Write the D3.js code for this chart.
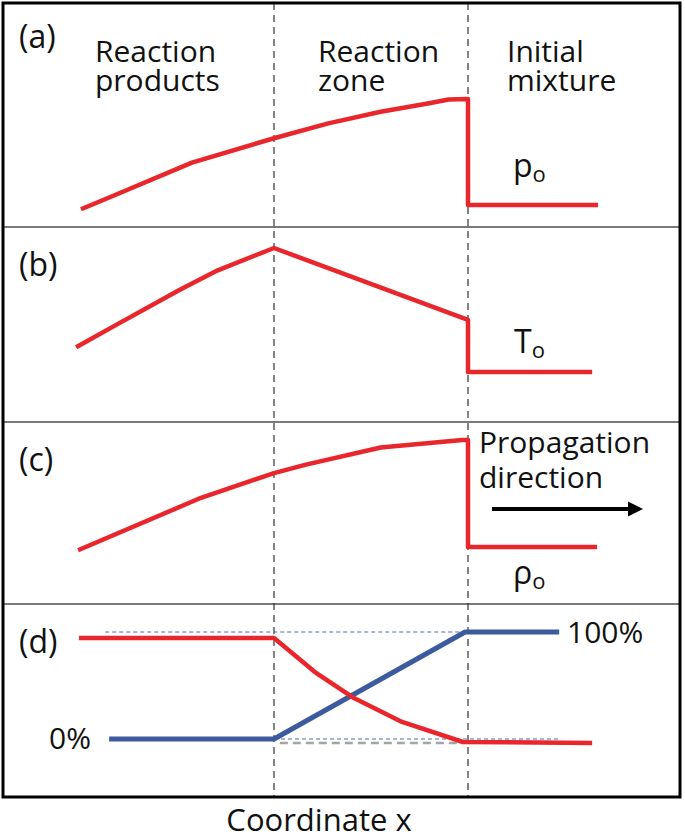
<!DOCTYPE html>
<html>
<head>
<meta charset="utf-8">
<script src="https://cdn.jsdelivr.net/npm/d3@7"></script>
<style>
  html, body { margin: 0; padding: 0; background: #fff; }
  svg { display: block; }
  text { font-family: "Open Sans", "DejaVu Sans", sans-serif; fill: #111; }
</style>
</head>
<body>
<script>
// ---------------- DATA ----------------
const panelLetters = ["(a)", "(b)", "(c)", "(d)"];
const regionLabels = [["Reaction", "products"], ["Reaction", "zone"], ["Initial", "mixture"]];
const frontPositions = [0, 1]; // reaction zone boundaries (dashed lines)

// (a) pressure
const pressureX = [-0.995, -0.825, -0.423, 0, 0.28, 0.55, 0.80, 0.90, 1.0, 1.0, 1.67];
const pressureY = [-0.04, 0.09, 0.40, 0.63, 0.77, 0.88, 0.96, 0.995, 1.0, 0, 0];

// (b) temperature
const temperatureX = [-1.02, -0.825, -0.49, -0.29, 0, 1.0, 1.0, 1.64];
const temperatureY = [0.20, 0.37, 0.66, 0.82, 1.0, 0.42, 0, 0];

// (c) density
const densityX = [-1.01, -0.376, 0, 0.165, 0.55, 0.97, 1.0, 1.0, 1.665];
const densityY = [-0.03, 0.46, 0.69, 0.77, 0.93, 1.0, 1.0, 0, 0];

// (d) composition
const reactantX = [-1.005, 0, 0.211, 0.412, 0.66, 0.974, 1.64];
const reactantY = [0.944, 0.944, 0.626, 0.383, 0.159, -0.028, -0.037];
const productX = [-0.85, 0, 0.985, 1.47];
const productY = [0, 0, 1, 1];
const guideTopX = [-0.87, 0.985];
const guideBottomX = [0, 1.47];
const grayGuideX = [0.03, 0.975];
const grayGuideY = -0.037;
const percentLabels = ["0%", "100%"];

const initialLabels = [["p", "o"], ["T", "o"], ["ρ", "o"]];
const propagationLabel = ["Propagation", "direction"];
const axisTitle = "Coordinate x";

// ---------------- LAYOUT ----------------
const W = 685, H = 840;
const box = { left: 3, top: 3, right: 680, bottom: 797 };
const separators = [227, 422, 604];
const RED = "#e8262b", BLUE = "#3c5a9e";

const svg = d3.select("body").append("svg").attr("width", W).attr("height", H);
svg.append("rect").attr("width", W).attr("height", H).attr("fill", "#fff");

const x = d3.scaleLinear().domain([0, 1]).range([274, 468]);
const yA = d3.scaleLinear().domain([0, 1]).range([205, 99]);
const yB = d3.scaleLinear().domain([0, 1]).range([372, 248]);
const yC = d3.scaleLinear().domain([0, 1]).range([547, 440]);
const yD = d3.scaleLinear().domain([0, 1]).range([739, 632]);

const zip = (xs, ys) => xs.map((v, i) => [v, Array.isArray(ys) ? ys[i] : ys]);

// separators
svg.selectAll("line.sep").data(separators).join("line")
  .attr("class", "sep")
  .attr("x1", box.left).attr("x2", box.right)
  .attr("y1", d => d).attr("y2", d => d)
  .attr("stroke", "#7a7a7a").attr("stroke-width", 2);

// dashed vertical lines
svg.selectAll("line.front").data(frontPositions).join("line")
  .attr("class", "front")
  .attr("x1", d => x(d)).attr("x2", d => x(d))
  .attr("y1", box.top).attr("y2", box.bottom)
  .attr("stroke", "#333").attr("stroke-width", 1.2)
  .attr("stroke-dasharray", "7,5");

// guides in (d)
const g = svg.append("g");
const guideLine = (xs, ys, yScale) => d3.line().x(d => x(d[0])).y(d => yScale(d[1]))(zip(xs, ys));
g.append("path").attr("d", guideLine(guideTopX, 1, yD))
  .attr("fill", "none").attr("stroke", "#5569ad").attr("stroke-width", 1).attr("stroke-dasharray", "4,3");
g.append("path").attr("d", guideLine(guideBottomX, 0, yD))
  .attr("fill", "none").attr("stroke", "#5569ad").attr("stroke-width", 1).attr("stroke-dasharray", "4,3");
g.append("path").attr("d", guideLine(grayGuideX, grayGuideY, yD))
  .attr("fill", "none").attr("stroke", "#a5a5a5").attr("stroke-width", 2.5).attr("stroke-dasharray", "8,5");

// curves
const series = [
  { xs: pressureX, ys: pressureY, y: yA, color: RED, w: 4.5 },
  { xs: temperatureX, ys: temperatureY, y: yB, color: RED, w: 4.5 },
  { xs: densityX, ys: densityY, y: yC, color: RED, w: 4.5 },
  { xs: productX, ys: productY, y: yD, color: BLUE, w: 5 },
  { xs: reactantX, ys: reactantY, y: yD, color: RED, w: 4.5 }
];
svg.selectAll("path.curve").data(series).join("path")
  .attr("class", "curve")
  .attr("d", s => d3.line().x(d => x(d[0])).y(d => s.y(d[1]))(zip(s.xs, s.ys)))
  .attr("fill", "none").attr("stroke", s => s.color).attr("stroke-width", s => s.w)
  .attr("stroke-linejoin", "round").attr("stroke-linecap", "butt");

// outer frame
svg.append("rect")
  .attr("x", box.left).attr("y", box.top)
  .attr("width", box.right - box.left).attr("height", box.bottom - box.top)
  .attr("fill", "none").attr("stroke", "#000").attr("stroke-width", 3);

// panel letters
const letterBaselines = [48, 276, 471, 653];
svg.selectAll("text.letter").data(panelLetters).join("text")
  .attr("class", "letter")
  .attr("x", 19).attr("y", (d, i) => letterBaselines[i])
  .attr("font-size", 32).text(d => d);

// region labels (two lines in one text element)
const regionX = [95, 318, 507];
regionLabels.forEach((lines, i) => {
  const t = svg.append("text").attr("x", regionX[i]).attr("y", 62).attr("font-size", 30);
  lines.forEach((s, j) => {
    t.append("tspan").attr("x", regionX[i]).attr("dy", j === 0 ? 0 : 29).text(s);
  });
});

// initial-state labels
const initPos = [[513, 177], [514, 353], [513, 584]];
initialLabels.forEach((lab, i) => {
  const t = svg.append("text").attr("x", initPos[i][0]).attr("y", initPos[i][1]).attr("font-size", 32);
  t.append("tspan").text(lab[0]);
  t.append("tspan").attr("font-size", 22).attr("dy", 5).text(lab[1]);
});

// propagation label + arrow
const pt = svg.append("text").attr("x", 479).attr("y", 453).attr("font-size", 30);
propagationLabel.forEach((s, j) => {
  pt.append("tspan").attr("x", 479).attr("dy", j === 0 ? 0 : 35).text(s);
});
const arrowY = 509;
svg.append("line").attr("x1", 492).attr("x2", 630).attr("y1", arrowY).attr("y2", arrowY)
  .attr("stroke", "#000").attr("stroke-width", 4);
svg.append("path")
  .attr("d", d3.line()([[628, arrowY - 7.5], [643, arrowY], [628, arrowY + 7.5]]) + "Z")
  .attr("fill", "#000");

// percentage labels
svg.append("text").attr("x", 49).attr("y", yD(0) + 10).attr("font-size", 30).text(percentLabels[0]);
svg.append("text").attr("x", 567).attr("y", yD(1) + 11).attr("font-size", 30).text(percentLabels[1]);

// axis title
svg.append("text").attr("x", 319).attr("y", 831).attr("text-anchor", "middle")
  .attr("font-size", 31).text(axisTitle);
</script>
</body>
</html>
